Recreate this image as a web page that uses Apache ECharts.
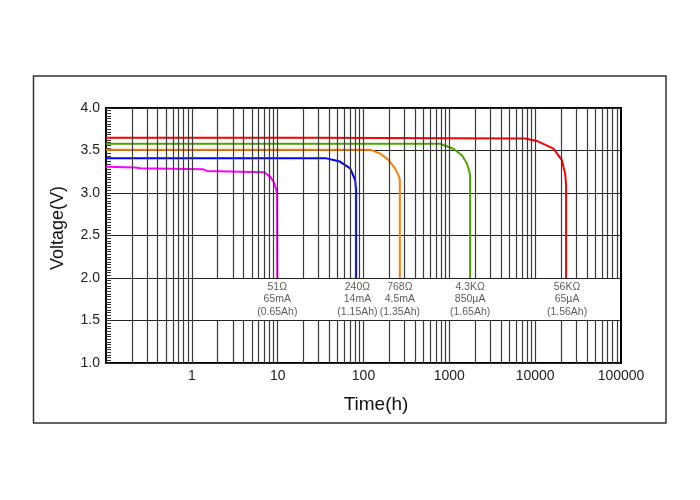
<!DOCTYPE html>
<html>
<head>
<meta charset="utf-8">
<script src="https://cdn.jsdelivr.net/npm/echarts@6/dist/echarts.min.js"></script>
<style>html,body{margin:0;padding:0;background:#fff}#c{width:700px;height:500px}</style>
</head>
<body>
<div id="c"></div>
<script>
// ---- data ----
const xTickValues = [1, 10, 100, 1000, 10000, 100000];
const yTickLabels = ['1.0', '1.5', '2.0', '2.5', '3.0', '3.5', '4.0'];

const pinkTime  = [0.1, 0.22, 0.25, 1.35, 1.5, 7.0, 8.2, 9.0, 9.5, 9.85, 9.9];
const pinkVolt  = [3.31, 3.30, 3.29, 3.28, 3.26, 3.245, 3.19, 3.13, 3.06, 3.0, 2.0];

const blueTime  = [0.1, 36, 53, 70, 80, 82, 82];
const blueVolt  = [3.41, 3.41, 3.37, 3.29, 3.15, 3.03, 2.0];

const orangeTime = [0.1, 119, 156, 195, 233, 255, 265, 265];
const orangeVolt = [3.51, 3.51, 3.465, 3.39, 3.29, 3.21, 3.16, 2.0];

const greenTime = [0.1, 782, 1117, 1400, 1600, 1714, 1746, 1746];
const greenVolt = [3.58, 3.58, 3.52, 3.445, 3.35, 3.25, 3.2, 2.0];

const redTime   = [0.1, 27, 28, 7640, 10470, 16330, 20460, 22340, 22900, 22900];
const redVolt   = [3.65, 3.65, 3.64, 3.64, 3.613, 3.523, 3.386, 3.23, 3.1, 2.0];

const resistances = ['51Ω', '240Ω', '768Ω', '4.3KΩ', '56KΩ'];
const currents    = ['65mA', '14mA', '4.5mA', '850µA', '65µA'];
const capacities  = ['(0.65Ah)', '(1.15Ah)', '(1.35Ah)', '(1.65Ah)', '(1.56Ah)'];
const labelTimes  = [9.9, 85, 265, 1746, 23500];
const labelVolt   = 1.75;

// log grid: decades and in-decade multipliers; the label band (1.5–2.0 V) is left blank from t = 2 on
const gridDecades = [0.1, 1, 10, 100, 1000, 10000];
const gridMultipliers = [2, 3, 4, 5, 6, 7, 8, 9, 10];
const bandStart = 1.9, bandLow = 1.5, bandHigh = 2.0;

// ---- build ----
const zip = (t, v) => t.map((x, i) => [x, v[i]]);
const vLines = [];
gridDecades.forEach(d => gridMultipliers.forEach(m => {
  const x = +(d * m).toPrecision(6);
  if (x >= 100000) return;
  if (x < bandStart) {
    vLines.push([{ coord: [x, 1] }, { coord: [x, 4] }]);
  } else {
    vLines.push([{ coord: [x, 1] }, { coord: [x, bandLow] }]);
    vLines.push([{ coord: [x, bandHigh] }, { coord: [x, 4] }]);
  }
}));

const curve = (name, color, t, v) => ({
  name, type: 'line', data: zip(t, v), showSymbol: false, symbol: 'none',
  lineStyle: { color, width: 2 }, itemStyle: { color }, z: 3, silent: true
});

const chart = echarts.init(document.getElementById('c'), null, { renderer: 'canvas' });
chart.setOption({
  animation: false,
  backgroundColor: '#fff',
  grid: { left: 106, top: 108, width: 515, height: 255, show: true, borderColor: '#000', borderWidth: 2, backgroundColor: '#fff' },
  xAxis: {
    type: 'log', logBase: 10, min: 0.1, max: 100000,
    axisLine: { show: false }, axisTick: { show: false },
    axisLabel: {
      margin: 6, fontSize: 14, color: '#222', fontFamily: 'Liberation Sans, Arial, sans-serif',
      formatter: v => { const r = Math.round(v); return xTickValues.includes(r) && v >= 1 ? String(r) : ''; },
      showMinLabel: true, showMaxLabel: true
    },
    splitLine: { show: false }
  },
  yAxis: {
    type: 'value', min: 1, max: 4, interval: 0.5,
    axisLine: { show: false },
    axisTick: { show: true, inside: true, length: 5, lineStyle: { color: '#333' } },
    minorTick: { show: true, splitNumber: 16, length: 5, lineStyle: { color: '#333' } },
    axisLabel: {
      margin: 6, fontSize: 14, color: '#222', fontFamily: 'Liberation Sans, Arial, sans-serif',
      formatter: v => yTickLabels[Math.round((v - 1) / 0.5)] || ''
    },
    splitLine: { show: true, lineStyle: { color: '#222', width: 1.2 } }
  },
  graphic: [
    { type: 'rect', silent: true, z: 0, shape: { x: 33.5, y: 76, width: 632.5, height: 347 },
      style: { fill: 'none', stroke: '#333', lineWidth: 1.5 } },
    { type: 'text', silent: true, x: 58, y: 228, rotation: Math.PI / 2,
      style: { text: 'Voltage(V)', font: '18px "Liberation Sans", Arial, sans-serif', fill: '#111', textAlign: 'center', textVerticalAlign: 'middle' } },
    { type: 'text', silent: true, x: 376, y: 405,
      style: { text: 'Time(h)', font: '19px "Liberation Sans", Arial, sans-serif', fill: '#111', textAlign: 'center', textVerticalAlign: 'middle' } }
  ],
  series: [
    { type: 'line', data: [[0.1, 1]], symbol: 'none', lineStyle: { opacity: 0 }, z: 1, silent: true,
      markLine: { silent: true, symbol: 'none', animation: false, label: { show: false },
        lineStyle: { color: '#3a3a3a', width: 1.2, type: 'solid' }, data: vLines } },
    curve('51Ω', '#ff00ff', pinkTime, pinkVolt),
    curve('240Ω', '#0000ff', blueTime, blueVolt),
    curve('768Ω', '#ff8000', orangeTime, orangeVolt),
    curve('4.3KΩ', '#4ca600', greenTime, greenVolt),
    curve('56KΩ', '#ff0000', redTime, redVolt),
    { type: 'scatter', symbolSize: 0, z: 4, silent: true,
      data: labelTimes.map((t, i) => ({ value: [t, labelVolt], text: resistances[i] + '\n' + currents[i] + '\n' + capacities[i] })),
      label: { show: true, position: 'inside', formatter: p => p.data.text, fontSize: 10.5, lineHeight: 12.5,
        color: '#333', fontFamily: 'Liberation Sans, Arial, sans-serif', align: 'center' } }
  ]
});
</script>
</body>
</html>
